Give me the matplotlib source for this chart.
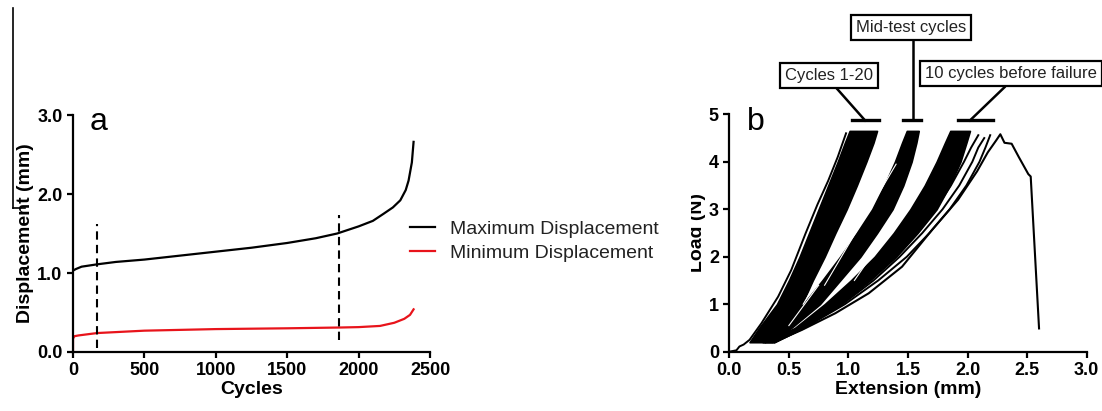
import numpy as np
import matplotlib.pyplot as plt
from matplotlib.lines import Line2D
from matplotlib.patches import Rectangle

plt.rcParams['font.family'] = ['Liberation Sans', 'DejaVu Sans']

# --- Panel a data: displacement vs cycles ---
cycles_max = [0, 20, 60, 170, 300, 500, 750, 1000, 1250, 1500, 1700, 1850, 2000,
              2100, 2175, 2240, 2292, 2330, 2350, 2373, 2385]
disp_max = [1.03, 1.05, 1.08, 1.11, 1.14, 1.17, 1.22, 1.27, 1.32, 1.38, 1.44, 1.50, 1.59,
            1.66, 1.75, 1.83, 1.92, 2.05, 2.17, 2.40, 2.66]
cycles_min = [0, 0, 10, 40, 170, 500, 1000, 1500, 1870, 2000, 2150, 2250, 2320, 2360, 2385]
disp_min = [0.0, 0.17, 0.20, 0.21, 0.24, 0.27, 0.29, 0.30, 0.31, 0.315, 0.33, 0.37, 0.42, 0.47, 0.54]
dash_x = [170, 1865]
dash_lo = [0.05, 0.15]
dash_hi = [1.62, 1.73]

# --- Panel b data: load vs extension ---
load_lv = [0.2, 0.5, 1.0, 1.5, 2.0, 2.5, 3.0, 3.5, 4.0, 4.4, 4.65]
band1_left = [0.17, 0.25, 0.40, 0.50, 0.59, 0.67, 0.75, 0.83, 0.91, 0.97, 1.01]
band1_right = [0.30, 0.42, 0.61, 0.70, 0.80, 0.89, 0.985, 1.07, 1.15, 1.21, 1.24]
band2_left = [0.28, 0.42, 0.62, 0.78, 0.93, 1.07, 1.20, 1.30, 1.39, 1.45, 1.49]
band2_right = [0.36, 0.52, 0.76, 0.93, 1.10, 1.24, 1.37, 1.46, 1.53, 1.57, 1.59]
band3_left = [0.30, 0.55, 0.80, 1.02, 1.22, 1.38, 1.52, 1.64, 1.74, 1.81, 1.855]
band3_right = [0.38, 0.62, 0.93, 1.18, 1.40, 1.58, 1.74, 1.85, 1.94, 1.99, 2.02]

first_ext = [0, 0.06, 0.085, 0.12, 0.17, 0.27, 0.41, 0.52, 0.64, 0.74, 0.83, 0.91, 0.98]
first_load = [0, 0.03, 0.11, 0.15, 0.25, 0.6, 1.16, 1.72, 2.49, 3.1, 3.6, 4.1, 4.6]

outer_load = [0.2, 0.5, 1.0, 1.5, 2.0, 2.5, 3.0, 3.5, 4.0, 4.3]
outer_curves = [
    ([0.37, 0.60, 0.92, 1.16, 1.37, 1.56, 1.73, 1.86, 1.97, 2.03], (2.09, 4.56)),
    ([0.38, 0.62, 0.95, 1.21, 1.43, 1.62, 1.79, 1.93, 2.04, 2.09], (2.14, 4.50)),
    ([0.38, 0.63, 0.97, 1.25, 1.49, 1.68, 1.85, 1.99, 2.10, 2.15], (2.19, 4.56)),
]
fail_ext = [0.384, 0.61, 0.89, 1.17, 1.45, 1.70, 1.92, 2.08, 2.17, 2.24, 2.275,
            2.31, 2.37, 2.43, 2.51, 2.53, 2.60]
fail_load = [0.21, 0.46, 0.81, 1.23, 1.79, 2.56, 3.2, 3.8, 4.2, 4.45, 4.58,
             4.40, 4.38, 4.10, 3.74, 3.69, 0.49]

# white streaks inside the bands
streaks = [
    ([0.80, 1.40], [1.40, 3.95]),
    ([0.62, 0.95], [1.00, 2.40]),
    ([1.05, 1.60], [1.50, 3.50]),
    ([0.50, 0.75], [0.55, 1.40]),
]

bars = [(1.03, 1.26), (1.46, 1.61), (1.92, 2.21)]
bar_y = 4.87

fig = plt.figure(figsize=(11.02, 4.11), dpi=100)

# ---------- panel a ----------
ax1 = fig.add_axes([73/1102, 1-352/411, 357/1102, 237/411])
ax1.plot(cycles_max, disp_max, color='black', lw=1.6, label='Maximum Displacement')
ax1.plot(cycles_min, disp_min, color='#e8141b', lw=1.6, label='Minimum Displacement')
for x, lo, hi in zip(dash_x, dash_lo, dash_hi):
    ax1.plot([x, x], [lo, hi], color='black', lw=1.5, ls=(0, (4, 2.5)))
ax1.set_xlim(0, 2500)
ax1.set_ylim(0, 3.0)
ax1.set_xticks([0, 500, 1000, 1500, 2000, 2500])
ax1.set_yticks([0.0, 1.0, 2.0, 3.0])
ax1.set_yticklabels(['0.0', '1.0', '2.0', '3.0'])
ax1.set_xlabel('Cycles', fontsize=14, fontweight='bold', labelpad=1)
ax1.set_ylabel('Displacement (mm)', fontsize=14, fontweight='bold', labelpad=2)
ax1.text(119, 2.81, 'a', fontsize=23, va='baseline')
ax1.legend(loc='center left', bbox_to_anchor=(392/1102, 1-241/411),
           bbox_transform=fig.transFigure, frameon=False, fontsize=14,
           handlelength=1.3, handletextpad=0.8, labelspacing=0.35,
           labelcolor='#222222')

# ---------- panel b ----------
ax2 = fig.add_axes([729.3/1102, 1-351.7/411, 357.4/1102, 237.4/411])
for left, right in [(band1_left, band1_right), (band2_left, band2_right),
                    (band3_left, band3_right)]:
    ax2.fill_betweenx(load_lv, left, right, color='black', lw=1.2, edgecolor='black')
for sx, sy in streaks:
    ax2.plot(sx, sy, color='white', lw=0.8)
ax2.plot(first_ext, first_load, color='black', lw=1.4)
for ext, peak in outer_curves:
    ax2.plot(ext + [peak[0]], outer_load + [peak[1]], color='black', lw=1.4)
ax2.plot(fail_ext, fail_load, color='black', lw=1.5)

ax2.set_xlim(0, 3.0)
ax2.set_ylim(0, 5)
ax2.set_xticks([0.0, 0.5, 1.0, 1.5, 2.0, 2.5, 3.0])
ax2.set_xticklabels(['0.0', '0.5', '1.0', '1.5', '2.0', '2.5', '3.0'])
ax2.set_yticks([0, 1, 2, 3, 4, 5])
ax2.set_xlabel('Extension (mm)', fontsize=14, fontweight='bold', labelpad=1)
ax2.set_ylabel('Load (N)', fontsize=14, fontweight='bold', labelpad=2)
ax2.text(0.146, 4.67, 'b', fontsize=23, va='baseline')

# brackets and callouts
for x0, x1 in bars:
    ax2.plot([x0, x1], [bar_y, bar_y], color='black', lw=2.4, clip_on=False)
ax2.plot([1.14, 0.90], [bar_y, 5.55], color='black', lw=1.8, clip_on=False)
ax2.plot([1.54, 1.54], [bar_y, 6.58], color='black', lw=1.8, clip_on=False)
ax2.plot([2.02, 2.31], [bar_y, 5.57], color='black', lw=1.8, clip_on=False)
box = dict(boxstyle='square,pad=0.3', facecolor='white', edgecolor='black', lw=1.6)
ax2.text(0.468, 5.81, 'Cycles 1-20', fontsize=12, ha='left', va='center',
         bbox=box, clip_on=False, color='#222222')
ax2.text(1.527, 6.83, 'Mid-test cycles', fontsize=12, ha='center', va='center',
         bbox=box, clip_on=False, color='#222222')
ax2.text(1.645, 5.85, '10 cycles before failure', fontsize=12, ha='left', va='center',
         bbox=box, clip_on=False, color='#222222')

for ax in (ax1, ax2):
    ax.spines['top'].set_visible(False)
    ax.spines['right'].set_visible(False)
    ax.spines['left'].set_linewidth(1.6)
    ax.spines['bottom'].set_linewidth(1.6)
    ax.tick_params(width=1.6, length=4.5, labelsize=13, pad=3)
    for lab in ax.get_xticklabels() + ax.get_yticklabels():
        lab.set_fontweight('bold')

# left panel crop artefacts and cut edge of panel b
fig.add_artist(Line2D([13/1102, 13/1102], [1-8/411, 1-208/411], color='black', lw=1.2))
fig.add_artist(Line2D([13/1102, 25/1102], [1-208/411, 1-208/411], color='black', lw=1.2))
fig.add_artist(Rectangle((664/1102, 0), 27/1102, 1, transform=fig.transFigure,
                         facecolor='white', edgecolor='none', zorder=10))

fig.savefig('out.png', dpi=100, facecolor='white')
